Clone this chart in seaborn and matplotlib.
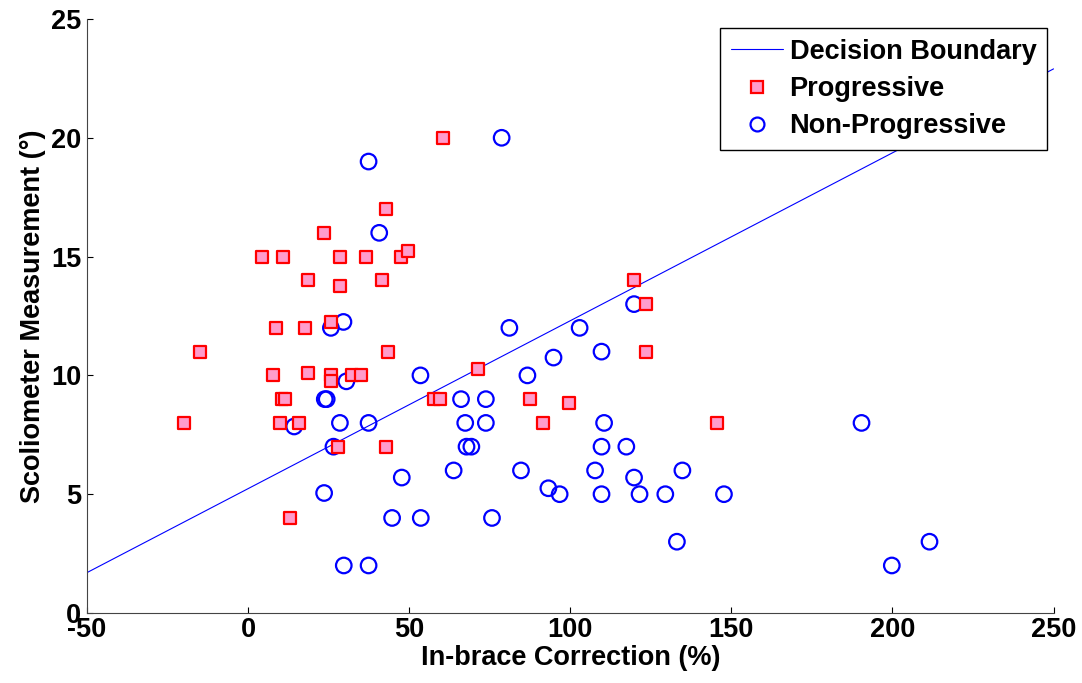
import matplotlib
matplotlib.use("Agg")
import matplotlib.pyplot as plt
import seaborn as sns
import pandas as pd
from matplotlib.lines import Line2D

# Progressive cases: (in-brace correction %, scoliometer measurement deg)
prog_x = [-20, -15, 4.4, 10.8, 7.6, 8.8, 10, 10.5, 11.5, 13, 15.7, 18.5, 17.7, 18.5,
          23.6, 25.7, 25.7, 25.7, 28.6, 28.6, 28, 32.2, 34.9, 36.6, 41.5, 42.8, 42.8,
          43.5, 47.6, 49.6, 60.5, 57.6, 59.7, 71.4, 87.5, 91.6, 99.6, 119.8, 123.4,
          123.4, 145.6]
prog_y = [8, 11, 15, 15, 10, 12, 8, 9, 9, 4, 8, 14, 12, 10.1,
          16, 10, 9.75, 12.25, 15, 13.75, 7, 10, 10, 15, 14, 17, 7,
          11, 15, 15.25, 20, 9, 9, 10.25, 9, 8, 8.85, 14, 13,
          11, 8]

# Non-progressive cases
nonprog_x = [37.4, 40.7, 29.6, 25.7, 78.7, 53.5, 30.5, 23.8, 24.4, 28.5, 37.4, 14.3,
             26.5, 47.7, 23.6, 44.7, 53.6, 29.7, 37.4, 63.8, 119.8, 81.1, 102.9, 109.7,
             94.8, 86.7, 66.1, 73.8, 67.4, 73.8, 110.5, 67.8, 69.3, 109.7, 117.4, 84.7,
             107.7, 134.8, 119.8, 93.2, 96.7, 109.7, 121.5, 129.5, 75.7, 133.1, 147.7,
             190.4, 211.5, 199.8]
nonprog_y = [19, 16, 12.25, 12, 20, 10, 9.75, 9, 9, 8, 8, 7.85,
             7, 5.7, 5.05, 4, 4, 2, 2, 6, 13, 12, 12, 11,
             10.75, 10, 9, 9, 8, 8, 8, 7, 7, 7, 7, 6,
             6, 6, 5.7, 5.25, 5, 5, 5, 5, 4, 3, 5,
             8, 3, 2]

# Decision boundary endpoints
boundary_x = [-50, 250]
boundary_y = [1.7, 22.9]

x_ticks = [-50, 0, 50, 100, 150, 200, 250]
y_ticks = [0, 5, 10, 15, 20, 25]

sns.set_style("ticks")
plt.rcParams['font.family'] = ['Liberation Sans', 'DejaVu Sans']
plt.rcParams['font.weight'] = 'bold'
plt.rcParams['axes.unicode_minus'] = False
plt.rcParams['text.color'] = 'black'
plt.rcParams['axes.labelcolor'] = 'black'
plt.rcParams['xtick.color'] = 'black'
plt.rcParams['ytick.color'] = 'black'

FS = 19.5

fig = plt.figure(figsize=(10.82, 6.83), dpi=100)
ax = fig.add_axes([0.0804, 0.1025, 0.8933, 0.8697])

line_df = pd.DataFrame({"x": boundary_x, "y": boundary_y})
sns.lineplot(data=line_df, x="x", y="y", ax=ax, color="#0000ff", linewidth=0.8,
             zorder=1, legend=False)

prog_df = pd.DataFrame({"x": prog_x, "y": prog_y})
sns.scatterplot(data=prog_df, x="x", y="y", ax=ax, marker="s", s=85,
                color="#ff9ccc", edgecolor="#ff0000", linewidth=1.6, zorder=3,
                legend=False)

non_df = pd.DataFrame({"x": nonprog_x, "y": nonprog_y})
sns.scatterplot(data=non_df, x="x", y="y", ax=ax, marker="o", s=125,
                facecolor="none", edgecolor="#0000ff", linewidth=1.6, zorder=2,
                legend=False)

ax.set_xlim(-50, 250)
ax.set_ylim(0, 25)
ax.set_xticks(x_ticks)
ax.set_yticks(y_ticks)
ax.tick_params(direction="in", length=4, width=0.8, labelsize=FS, colors="black")
ax.tick_params(axis="x", pad=3)
ax.tick_params(axis="y", pad=4)
for lab in ax.get_xticklabels() + ax.get_yticklabels():
    lab.set_fontweight("bold")

sns.despine(ax=ax)
for sp in ["left", "bottom"]:
    ax.spines[sp].set_color("#444444")
    ax.spines[sp].set_linewidth(0.8)

ax.set_xlabel("In-brace Correction (%)", fontsize=FS, fontweight="bold", labelpad=1)
ax.set_ylabel("Scoliometer Measurement (°)", fontsize=FS, fontweight="bold", labelpad=4)

handles = [
    Line2D([0], [0], color="#0000ff", linewidth=0.8),
    Line2D([0], [0], marker="s", linestyle="none", markersize=8,
           markerfacecolor="#ff9ccc", markeredgecolor="#ff0000", markeredgewidth=1.6),
    Line2D([0], [0], marker="o", linestyle="none", markersize=10,
           markerfacecolor="none", markeredgecolor="#0000ff", markeredgewidth=1.6),
]
leg = ax.legend(handles, ["Decision Boundary", "Progressive", "Non-Progressive"],
                loc="upper right", bbox_to_anchor=(0.9935, 0.985), fancybox=False,
                framealpha=1, edgecolor="black", prop={"weight": "bold", "size": FS},
                handlelength=1.9, borderpad=0.4, labelspacing=0.42, handletextpad=0.25,
                borderaxespad=0.0)
leg.get_frame().set_linewidth(1.0)

fig.savefig("out.png", dpi=100)
